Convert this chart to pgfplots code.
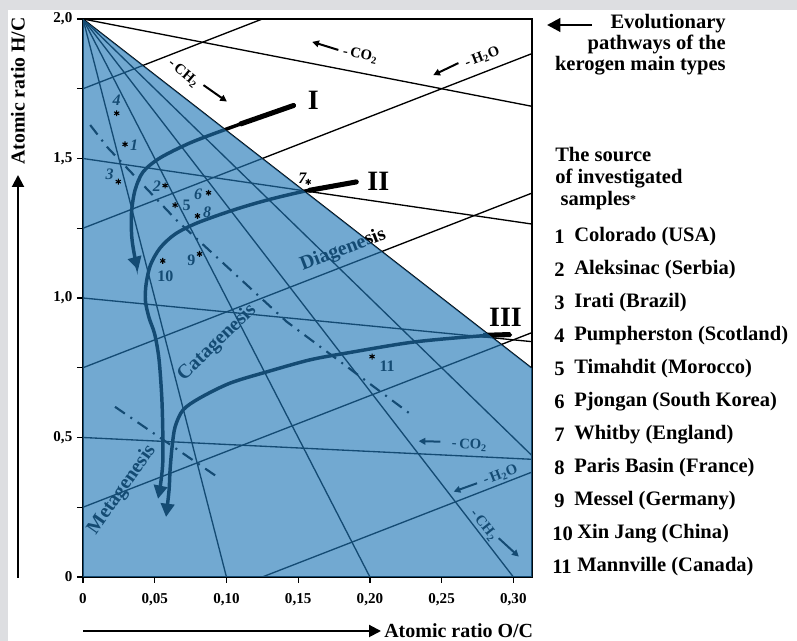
\documentclass[border=0pt]{standalone}
\usepackage{pgfplots}
\pgfplotsset{compat=1.18}
\usepackage{fontspec}
\setmainfont{Liberation Serif}
\usetikzlibrary{arrows.meta}
\definecolor{kblue}{RGB}{32,119,183}
\definecolor{bggray}{RGB}{221,222,225}
\pgfplotsset{
  thinl/.style={black, line width=1.0pt, no marks},
  curv/.style={black, line width=2.6pt, no marks, smooth, line cap=round},
  ddot/.style={black, line width=1.6pt, no marks, dash pattern=on 9pt off 5pt on 1.5pt off 5pt},
  smallarr/.style={black, line width=1.5pt, no marks, -{Triangle[length=5pt,width=5pt]}},
}
\begin{document}
\begin{tikzpicture}[x=0.75pt,y=0.75pt,font=\bfseries]
\fill[bggray] (0,0) rectangle (797,641);
\fill[white] (8,0) rectangle (797,631);
\begin{axis}[
  at={(62.25pt,48pt)}, anchor=south west,
  scale only axis, width=336.75pt, height=418.5pt,
  xmin=0, xmax=0.313, ymin=0, ymax=2,
  axis line style={line width=1.2pt},
  xtick={0,0.05,0.1,0.15,0.2,0.25,0.3},
  xticklabels={0,{0,05},{0,10},{0,15},{0,20},{0,25},{0,30}},
  ytick={0,0.5,1,1.5,2},
  yticklabels={0,{0,5},{1,0},{1,5},{2,0}},
  minor ytick={0.25,0.75,1.25,1.75},
  tick align=outside, tick pos=left,
  major tick length=4.5pt, minor tick length=4.5pt,
  tick style={line width=1pt, black},
  ticklabel style={font=\fontsize{11.3}{13}\selectfont\bfseries},
  xticklabel style={yshift=-4pt},
  /pgf/number format/assume math mode=true,
]
% -CH2 lines (fan from (0,2))
\addplot[thinl] coordinates {(0,2) (0.1,0)};
\addplot[thinl] coordinates {(0,2) (0.2,0)};
\addplot[thinl] coordinates {(0,2) (0.3,0)};
\addplot[thinl] coordinates {(0,2) (0.4,0)};
\addplot[thinl] coordinates {(0,2) (0.5,0)};
% -CO2 lines
\addplot[thinl] coordinates {(0,2) (0.313,1.687)};
\addplot[thinl] coordinates {(0,1.5) (0.313,1.265)};
\addplot[thinl] coordinates {(0,1) (0.313,0.8435)};
\addplot[thinl] coordinates {(0,0.5) (0.313,0.4218)};
% -H2O lines
\addplot[thinl] coordinates {(0,1.75) (0.125,2)};
\addplot[thinl] coordinates {(0,1.25) (0.313,1.876)};
\addplot[thinl] coordinates {(0,0.75) (0.313,1.376)};
\addplot[thinl] coordinates {(0,0.25) (0.313,0.876)};
\addplot[thinl] coordinates {(0.125,0) (0.313,0.376)};
% boundaries (dash-dot)
\addplot[ddot] coordinates {(0.005,1.62) (0.017,1.54) (0.065,1.28) (0.142,0.915) (0.228,0.585)};
\addplot[ddot] coordinates {(0.0223,0.610) (0.0933,0.360)};
% evolutionary pathways
\addplot[curv, -{Triangle[length=10pt,width=10pt]}] coordinates {
 (0.1468,1.690) (0.1200,1.642) (0.1003,1.606) (0.0747,1.556) (0.0537,1.502)
 (0.0419,1.452) (0.0363,1.387) (0.0338,1.305) (0.0340,1.219) (0.0360,1.150) (0.0384,1.100)};
\addplot[black, line width=3.8pt, line cap=round] coordinates {(0.1468,1.690) (0.1100,1.624)};
\addplot[curv, -{Triangle[length=10pt,width=10pt]}] coordinates {
 (0.1905,1.416) (0.1556,1.384) (0.1284,1.351) (0.1047,1.315) (0.0796,1.269)
 (0.0642,1.229) (0.0537,1.179) (0.0470,1.118) (0.0440,1.050) (0.0435,0.990)
 (0.0460,0.930) (0.0500,0.870) (0.0530,0.780) (0.0549,0.646) (0.0556,0.527)
 (0.0556,0.409) (0.0540,0.330) (0.0523,0.280)};
\addplot[black, line width=3.8pt, line cap=round] coordinates {(0.1905,1.416) (0.1580,1.386)};
\addplot[curv, -{Triangle[length=10pt,width=10pt]}] coordinates {
 (0.298,0.868) (0.277,0.864) (0.2303,0.842) (0.1842,0.803) (0.158,0.778)
 (0.128,0.735) (0.1026,0.695) (0.0816,0.642) (0.0698,0.599) (0.0642,0.538)
 (0.0621,0.466) (0.0607,0.384) (0.0600,0.312) (0.0579,0.215)};
\addplot[black, line width=3.8pt, line cap=butt] coordinates {(0.298,0.869) (0.279,0.866)};
% samples
\addplot[black, only marks, mark=asterisk, mark size=2.2pt, line width=0.8pt] coordinates {
 (0.0293,1.551) (0.0572,1.403) (0.0246,1.417) (0.0235,1.662) (0.0642,1.333)
 (0.0875,1.377) (0.157,1.416) (0.0798,1.294) (0.0812,1.158) (0.0556,1.133) (0.2015,0.79)};
\begin{scope}[every node/.style={font=\fontsize{12}{13}\selectfont\bfseries\itshape, inner sep=0pt}]
\node at (axis cs:0.0356,1.548) {1};
\node at (axis cs:0.0515,1.401) {2};
\node at (axis cs:0.0185,1.443) {3};
\node at (axis cs:0.0235,1.708) {4};
\node[font=\fontsize{12}{13}\selectfont\bfseries] at (axis cs:0.0722,1.333) {5};
\node at (axis cs:0.0802,1.371) {6};
\node at (axis cs:0.1530,1.430) {7};
\node at (axis cs:0.0866,1.309) {8};
\node[font=\fontsize{12}{13}\selectfont\bfseries] at (axis cs:0.0756,1.136) {9};
\node[font=\fontsize{12}{13}\selectfont\bfseries] at (axis cs:0.0575,1.077) {10};
\node[font=\fontsize{12}{13}\selectfont\bfseries] at (axis cs:0.2120,0.754) {11};
\end{scope}
% kerogen types
\node[font=\fontsize{21}{24}\selectfont\bfseries] at (axis cs:0.1605,1.710) {I};
\node[font=\fontsize{21}{24}\selectfont\bfseries] at (axis cs:0.2059,1.419) {II};
\node[font=\fontsize{21}{24}\selectfont\bfseries] at (axis cs:0.2945,0.932) {III};
% stages
\node[font=\fontsize{15}{17}\selectfont\bfseries, rotate=21] at (axis cs:0.1814,1.172) {Diagenesis};
\node[font=\fontsize{15}{17}\selectfont\bfseries, rotate=44] at (axis cs:0.0935,0.839) {Catagenesis};
\node[font=\fontsize{15}{17}\selectfont\bfseries, rotate=55] at (axis cs:0.0272,0.312) {Metagenesis};
% reaction arrows and labels
\addplot[smallarr] coordinates {(0.178,1.889) (0.1598,1.918)};
\node[font=\fontsize{11}{13}\selectfont\bfseries, rotate=-11] at (axis cs:0.1933,1.871) {-\,CO\textsubscript{2}};
\addplot[smallarr] coordinates {(0.2617,1.842) (0.2442,1.799)};
\node[font=\fontsize{11}{13}\selectfont\bfseries, rotate=21] at (axis cs:0.2784,1.862) {-\,H\textsubscript{2}O};
\addplot[smallarr] coordinates {(0.0840,1.763) (0.1003,1.704)};
\node[font=\fontsize{11}{13}\selectfont\bfseries, rotate=-40] at (axis cs:0.0700,1.805) {-\,CH\textsubscript{2}};
\addplot[smallarr] coordinates {(0.2491,0.485) (0.2340,0.487)};
\node[font=\fontsize{11}{13}\selectfont\bfseries, rotate=-3] at (axis cs:0.2694,0.473) {-\,CO\textsubscript{2}};
\addplot[smallarr] coordinates {(0.2747,0.336) (0.2584,0.306)};
\node[font=\fontsize{11}{13}\selectfont\bfseries, rotate=21] at (axis cs:0.291,0.366) {-\,H\textsubscript{2}O};
\addplot[smallarr] coordinates {(0.2898,0.139) (0.3038,0.073)};
\node[font=\fontsize{11}{13}\selectfont\bfseries, rotate=-52] at (axis cs:0.2793,0.186) {-\,CH\textsubscript{2}};
% translucent blue field
\addplot[draw=none, fill=kblue, fill opacity=0.63] coordinates {(0,0) (0,2) (0.313,0.748) (0.313,0)} -- cycle;
\end{axis}
% axis titles
\node[rotate=90, font=\fontsize{14.8}{17}\selectfont\bfseries] at (18,550) {Atomic ratio H/C};
\draw[line width=1.5pt, -{Triangle[length=9pt,width=9pt]}] (18,63) -- (18,466);
\draw[line width=1.5pt, -{Triangle[length=9pt,width=9pt]}] (83,10) -- (381,10);
\node[anchor=west, inner sep=0pt, font=\fontsize{15}{17}\selectfont\bfseries] at (384,10) {Atomic ratio O/C};
% notes at right
\draw[line width=2.2pt, -{Triangle[length=10pt,width=10pt]}] (592,616) -- (547,616);
\node[anchor=east, align=right, inner sep=0pt, font=\fontsize{15.4}{15.8}\selectfont\bfseries] at (726,596)
  {Evolutionary\\pathways of the\\kerogen main types};
\node[anchor=west, align=left, inner sep=0pt, font=\fontsize{15.4}{16.5}\selectfont\bfseries] at (555,462)
  {The source\\of investigated\\\hspace*{4pt}samples\raisebox{2pt}{\fontsize{9}{10}\selectfont*}};
\begin{scope}[every node/.style={anchor=west, inner sep=0pt, font=\fontsize{15.4}{17}\selectfont\bfseries}]
\node at (554,404) {1};  \node at (574,404) {Colorado (USA)};
\node at (554,371) {2};  \node at (574,371) {Aleksinac (Serbia)};
\node at (554,338) {3};  \node at (574,338) {Irati (Brazil)};
\node at (554,305) {4};  \node at (574,305) {Pumpherston (Scotland)};
\node at (554,272) {5};  \node at (574,272) {Timahdit (Morocco)};
\node at (554,239) {6};  \node at (574,239) {Pjongan (South Korea)};
\node at (554,206) {7};  \node at (574,206) {Whitby (England)};
\node at (554,173) {8};  \node at (574,173) {Paris Basin (France)};
\node at (554,140) {9};  \node at (574,140) {Messel (Germany)};
\node at (552,107) {10}; \node at (577,107) {Xin Jang (China)};
\node at (552,74)  {11}; \node at (577,74)  {Mannville (Canada)};
\end{scope}
\pgfresetboundingbox
\useasboundingbox (0,0) rectangle (797,641);
\end{tikzpicture}
\end{document}
